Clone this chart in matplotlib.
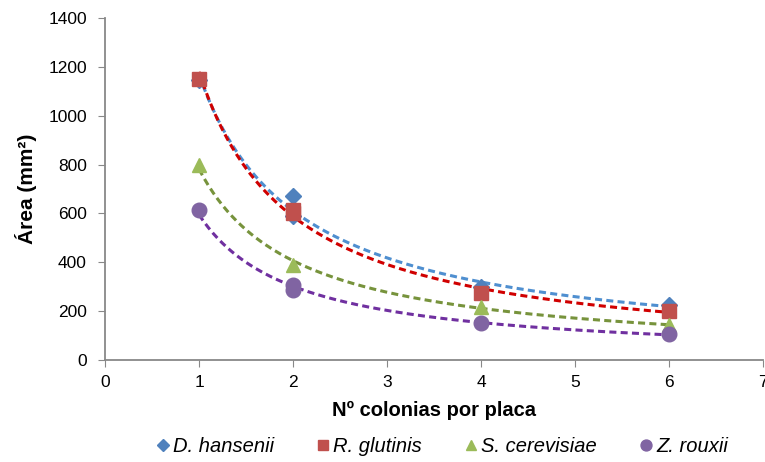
import numpy as np
import matplotlib.pyplot as plt

plt.rcParams['font.family'] = ['Liberation Sans', 'DejaVu Sans']

# datos
x_dh = [1, 2, 2, 4, 6]
y_dh = [1145, 670, 590, 299, 225]
x_rg = [1, 2, 2, 4, 6]
y_rg = [1150, 615, 600, 274, 200]
x_sc = [1, 2, 4, 6]
y_sc = [800, 389, 215, 145]
x_zr = [1, 2, 2, 4, 6]
y_zr = [614, 305, 285, 151, 106]

series = [
    ("D. hansenii", x_dh, y_dh, "D", "#4F81BD", "#4F8FD0", 8),
    ("R. glutinis", x_rg, y_rg, "s", "#C0504D", "#D00000", 10),
    ("S. cerevisiae", x_sc, y_sc, "^", "#9BBB59", "#77933C", 10.5),
    ("Z. rouxii", x_zr, y_zr, "o", "#8064A2", "#7030A0", 10.5),
]

fig = plt.figure(figsize=(7.65, 4.62), dpi=100)
ax = fig.add_axes([105 / 765, 1 - 360 / 462, 658 / 765, 342 / 462])

# líneas de tendencia (potencial)
xx = np.linspace(1, 6, 200)
for name, xs, ys, m, mc, lc, ms in series:
    b, loga = np.polyfit(np.log(xs), np.log(ys), 1)
    ax.plot(xx, np.exp(loga) * xx ** b, '--', color=lc, lw=2.2, dashes=(2.3, 1.4), zorder=3)

for name, xs, ys, m, mc, lc, ms in series:
    ax.plot(xs, ys, m, color=mc, ms=ms, label=name, ls='none', zorder=4)

ax.set_xlim(0, 7)
ax.set_ylim(0, 1400)
ax.set_xticks(range(0, 8))
ax.set_yticks(range(0, 1401, 200))
ax.tick_params(labelsize=12.5, length=5, color='#888888')
ax.tick_params(axis='x', pad=6)
ax.tick_params(axis='y', pad=8)
for s in ['top', 'right']:
    ax.spines[s].set_visible(False)
for s in ['left', 'bottom']:
    ax.spines[s].set_color('#888888')
    ax.spines[s].set_linewidth(1.3)

ax.set_xlabel("Nº colonias por placa", fontsize=14.5, fontweight='bold', labelpad=8)
ax.set_ylabel("Área (mm²)", fontsize=15, fontweight='bold', labelpad=8)

leg = fig.legend(*ax.get_legend_handles_labels(), loc='center',
                 bbox_to_anchor=(441 / 765, 1 - 447 / 462), ncol=4, frameon=False,
                 fontsize=14.5, handletextpad=0.05, columnspacing=2.0, markerscale=0.75,
                 handlelength=0.9, borderpad=0)
for t in leg.get_texts():
    t.set_fontstyle('italic')

fig.savefig("out.png", dpi=100)
